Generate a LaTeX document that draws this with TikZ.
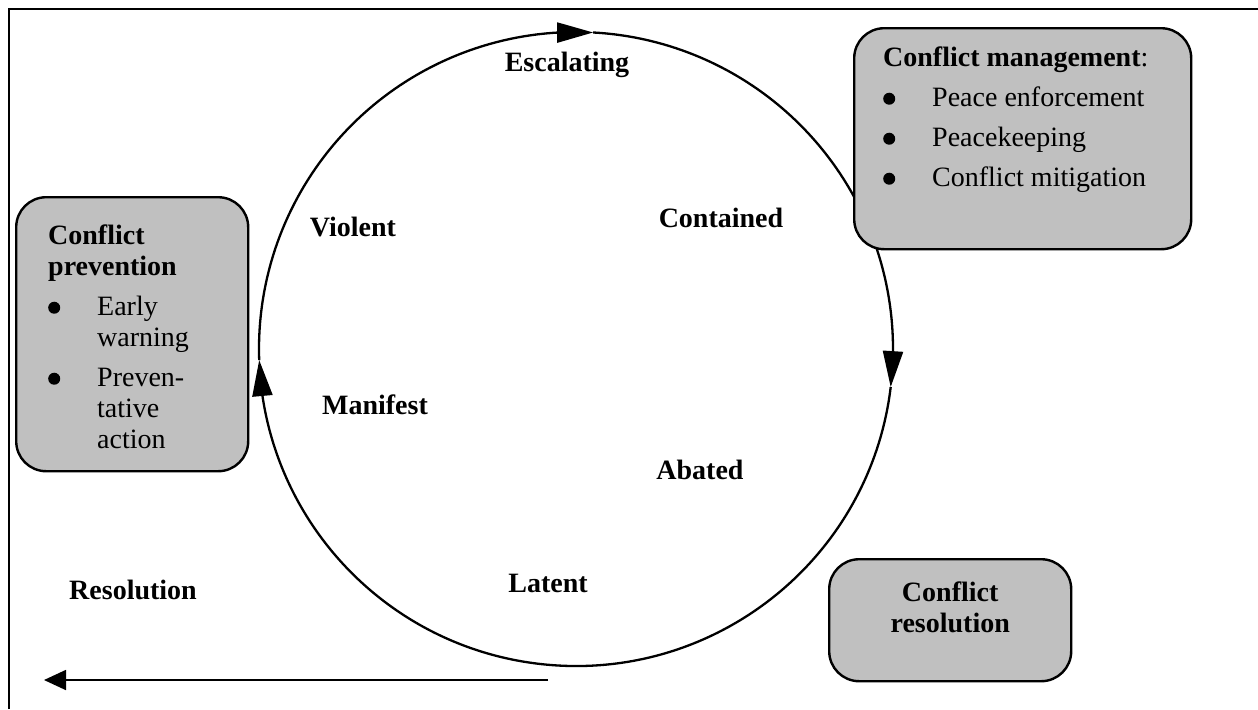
\documentclass[tikz,border=0pt]{standalone}
\usepackage{fontspec}
\setmainfont{Liberation Serif}
\usetikzlibrary{arrows.meta,bending}
\definecolor{boxgrey}{RGB}{192,192,192}
\newcommand{\boxfont}{\fontsize{14}{15.5}\selectfont\setlength{\parskip}{4.5pt}\raggedright}
\newcommand{\bulletdot}{\tikz[baseline=0pt]\fill (0pt,3.9pt) circle[radius=3pt];}
\newcommand{\bulitem}[1]{\par\noindent\hangindent=24.5pt\hangafter=1\makebox[24.5pt][l]{\bulletdot}#1}

\begin{document}
\begin{tikzpicture}[x=0.5pt,y=-0.5pt,
    stage/.style={font=\bfseries\fontsize{14}{15.5}\selectfont},
    actbox/.style={draw,line width=1.2pt,rounded corners=15pt,fill=boxgrey,anchor=north west,inner ysep=0pt},
    cyclearrow/.style={line width=1.15pt,-{Triangle[length=18pt,width=10pt]}}]
   \useasboundingbox (0,0) rectangle (1258,709);
   \coordinate (framebl) at (9,709);
   \coordinate (frametl) at (9,9);
   \coordinate (frametr) at (1258,9);
   \draw[line width=1.2pt] (framebl) -- (frametl) -- (frametr);

   \coordinate (hub) at (576,349);
   \draw[cyclearrow] (hub) ++(182:158.5pt) arc[start angle=182, end angle=86.9, radius=158.5pt];
   \draw[cyclearrow] (hub) ++(86.9:158.5pt) arc[start angle=86.9, end angle=-6.9, radius=158.5pt];
   \draw[cyclearrow] (hub) ++(-6.9:158.5pt) arc[start angle=-6.9, end angle=-178, radius=158.5pt];

   \draw (567,65) node[stage] (escalating) {Escalating};
   \draw (721,218) node[stage] (contained) {Contained};
   \draw (353,227) node[stage] (violent) {Violent};
   \draw (375,405) node[stage] (manifest) {Manifest};
   \draw (700,470) node[stage] (abated) {Abated};
   \draw (548,583) node[stage] (latent) {Latent};
   \draw (133,590) node[stage] (resolution) {Resolution};

   \draw (853,27) node[actbox,inner xsep=14.5pt] (management)
      {\parbox[t][110.5pt][t]{139.5pt}{\boxfont\vspace*{4.8pt}\textbf{Conflict management}:%
       \bulitem{Peace enforcement}\bulitem{Peacekeeping}\bulitem{Conflict mitigation}}};
   \draw (15,196) node[actbox,inner xsep=16pt] (prevention)
      {\parbox[t][137pt][t]{84pt}{\boxfont\vspace*{9.3pt}\textbf{Conflict}\\\textbf{prevention}%
       \bulitem{Early\newline warning}\bulitem{Preven-\newline tative\newline action}}};
   \draw (828,558) node[actbox,inner xsep=0pt] (resolbox)
      {\parbox[t][61pt][t]{121pt}{\boxfont\centering\vspace*{6.8pt}\textbf{Conflict}\\\textbf{resolution}}};

   \coordinate (backstart) at (548,680);
   \coordinate (backend) at (44,680);
   \path[line width=0.85pt,-{Triangle[length=11pt,width=10pt]}] (backstart) edge (backend);
\end{tikzpicture}
\end{document}
